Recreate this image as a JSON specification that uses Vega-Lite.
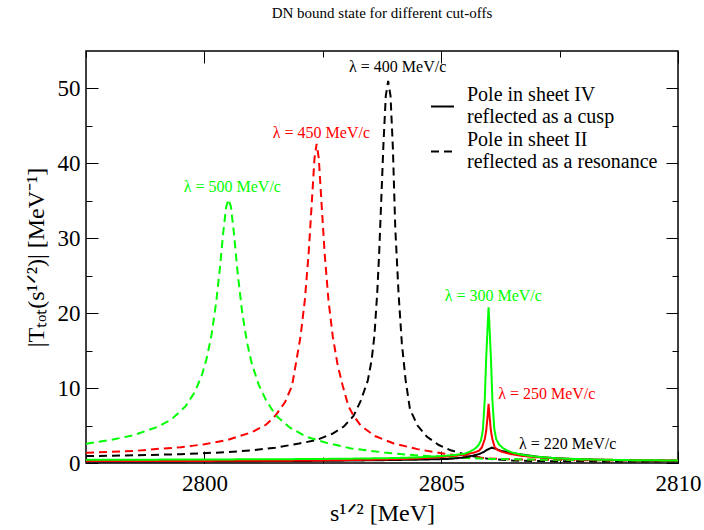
{
  "$schema": "https://vega.github.io/schema/vega-lite/v6.json",
  "width": 592,
  "height": 412,
  "autosize": {"type": "none"},
  "padding": {"left": 86, "top": 51, "right": 26, "bottom": 67},
  "background": "white",
  "title": {"text": "DN bound state for different cut-offs", "font": "Liberation Serif", "fontSize": 15, "fontWeight": "normal", "color": "black", "anchor": "middle", "baseline": "alphabetic", "frame": "group", "offset": 18},
  "config": {
    "view": {"stroke": "black", "strokeWidth": 1.5},
    "axis": {"labelFont": "Liberation Serif", "labelFontSize": 23, "labelColor": "black", "titleFont": "Liberation Serif", "titleFontSize": 24, "titleFontWeight": "normal", "titleColor": "black", "domain": false, "grid": false, "tickColor": "black", "tickWidth": 1, "labelFlush": false, "labelOverlap": false, "labelBound": false},
    "legend": {"labelFont": "Liberation Serif", "labelFontSize": 20, "labelColor": "black"}
  },
  "datasets": {
    "res": [
      {"x": 2797.5, "y": 0.92, "s": "400", "k": "resonance"},
      {"x": 2798.5, "y": 1.02, "s": "400", "k": "resonance"},
      {"x": 2799.5, "y": 1.18, "s": "400", "k": "resonance"},
      {"x": 2800.5, "y": 1.45, "s": "400", "k": "resonance"},
      {"x": 2801.0, "y": 1.7, "s": "400", "k": "resonance"},
      {"x": 2801.5, "y": 2.05, "s": "400", "k": "resonance"},
      {"x": 2802.0, "y": 2.6, "s": "400", "k": "resonance"},
      {"x": 2802.36, "y": 3.05, "s": "400", "k": "resonance"},
      {"x": 2802.7, "y": 3.9, "s": "400", "k": "resonance"},
      {"x": 2802.95, "y": 4.9, "s": "400", "k": "resonance"},
      {"x": 2803.15, "y": 6.3, "s": "400", "k": "resonance"},
      {"x": 2803.3, "y": 8.3, "s": "400", "k": "resonance"},
      {"x": 2803.45, "y": 11.0, "s": "400", "k": "resonance"},
      {"x": 2803.53, "y": 13.7, "s": "400", "k": "resonance"},
      {"x": 2803.59, "y": 17.0, "s": "400", "k": "resonance"},
      {"x": 2803.65, "y": 22.8, "s": "400", "k": "resonance"},
      {"x": 2803.69, "y": 28.0, "s": "400", "k": "resonance"},
      {"x": 2803.74, "y": 36.0, "s": "400", "k": "resonance"},
      {"x": 2803.78, "y": 42.5, "s": "400", "k": "resonance"},
      {"x": 2803.83, "y": 49.0, "s": "400", "k": "resonance"},
      {"x": 2803.88, "y": 51.0, "s": "400", "k": "resonance"},
      {"x": 2803.93, "y": 49.0, "s": "400", "k": "resonance"},
      {"x": 2803.98, "y": 42.0, "s": "400", "k": "resonance"},
      {"x": 2804.03, "y": 31.4, "s": "400", "k": "resonance"},
      {"x": 2804.1, "y": 22.6, "s": "400", "k": "resonance"},
      {"x": 2804.17, "y": 15.9, "s": "400", "k": "resonance"},
      {"x": 2804.25, "y": 11.0, "s": "400", "k": "resonance"},
      {"x": 2804.34, "y": 7.2, "s": "400", "k": "resonance"},
      {"x": 2804.5, "y": 5.0, "s": "400", "k": "resonance"},
      {"x": 2804.7, "y": 3.5, "s": "400", "k": "resonance"},
      {"x": 2804.95, "y": 2.4, "s": "400", "k": "resonance"},
      {"x": 2805.2, "y": 1.7, "s": "400", "k": "resonance"},
      {"x": 2805.5, "y": 1.15, "s": "400", "k": "resonance"},
      {"x": 2805.75, "y": 0.8, "s": "400", "k": "resonance"},
      {"x": 2806.0, "y": 0.55, "s": "400", "k": "resonance"},
      {"x": 2806.5, "y": 0.33, "s": "400", "k": "resonance"},
      {"x": 2807.0, "y": 0.26, "s": "400", "k": "resonance"},
      {"x": 2808.0, "y": 0.22, "s": "400", "k": "resonance"},
      {"x": 2809.0, "y": 0.2, "s": "400", "k": "resonance"},
      {"x": 2810.0, "y": 0.2, "s": "400", "k": "resonance"},
      {"x": 2797.5, "y": 1.36, "s": "450", "k": "resonance"},
      {"x": 2798.5, "y": 1.6, "s": "450", "k": "resonance"},
      {"x": 2799.06, "y": 1.9, "s": "450", "k": "resonance"},
      {"x": 2799.5, "y": 2.1, "s": "450", "k": "resonance"},
      {"x": 2800.0, "y": 2.5, "s": "450", "k": "resonance"},
      {"x": 2800.5, "y": 3.1, "s": "450", "k": "resonance"},
      {"x": 2801.0, "y": 4.1, "s": "450", "k": "resonance"},
      {"x": 2801.3, "y": 5.1, "s": "450", "k": "resonance"},
      {"x": 2801.5, "y": 6.33, "s": "450", "k": "resonance"},
      {"x": 2801.7, "y": 8.1, "s": "450", "k": "resonance"},
      {"x": 2801.85, "y": 10.3, "s": "450", "k": "resonance"},
      {"x": 2801.93, "y": 13.2, "s": "450", "k": "resonance"},
      {"x": 2802.03, "y": 16.9, "s": "450", "k": "resonance"},
      {"x": 2802.12, "y": 21.7, "s": "450", "k": "resonance"},
      {"x": 2802.2, "y": 27.9, "s": "450", "k": "resonance"},
      {"x": 2802.27, "y": 35.0, "s": "450", "k": "resonance"},
      {"x": 2802.325, "y": 40.7, "s": "450", "k": "resonance"},
      {"x": 2802.37, "y": 42.6, "s": "450", "k": "resonance"},
      {"x": 2802.415, "y": 40.7, "s": "450", "k": "resonance"},
      {"x": 2802.47, "y": 35.0, "s": "450", "k": "resonance"},
      {"x": 2802.54, "y": 27.9, "s": "450", "k": "resonance"},
      {"x": 2802.62, "y": 21.7, "s": "450", "k": "resonance"},
      {"x": 2802.71, "y": 16.9, "s": "450", "k": "resonance"},
      {"x": 2802.81, "y": 13.2, "s": "450", "k": "resonance"},
      {"x": 2802.92, "y": 10.3, "s": "450", "k": "resonance"},
      {"x": 2803.04, "y": 7.6, "s": "450", "k": "resonance"},
      {"x": 2803.15, "y": 6.3, "s": "450", "k": "resonance"},
      {"x": 2803.3, "y": 5.0, "s": "450", "k": "resonance"},
      {"x": 2803.6, "y": 3.6, "s": "450", "k": "resonance"},
      {"x": 2804.0, "y": 2.6, "s": "450", "k": "resonance"},
      {"x": 2804.5, "y": 1.85, "s": "450", "k": "resonance"},
      {"x": 2805.0, "y": 1.3, "s": "450", "k": "resonance"},
      {"x": 2805.5, "y": 0.9, "s": "450", "k": "resonance"},
      {"x": 2806.0, "y": 0.62, "s": "450", "k": "resonance"},
      {"x": 2806.5, "y": 0.48, "s": "450", "k": "resonance"},
      {"x": 2807.5, "y": 0.4, "s": "450", "k": "resonance"},
      {"x": 2808.5, "y": 0.35, "s": "450", "k": "resonance"},
      {"x": 2810.0, "y": 0.3, "s": "450", "k": "resonance"},
      {"x": 2797.5, "y": 2.56, "s": "500", "k": "resonance"},
      {"x": 2798.0, "y": 3.05, "s": "500", "k": "resonance"},
      {"x": 2798.5, "y": 3.7, "s": "500", "k": "resonance"},
      {"x": 2799.0, "y": 4.8, "s": "500", "k": "resonance"},
      {"x": 2799.3, "y": 5.8, "s": "500", "k": "resonance"},
      {"x": 2799.6, "y": 7.55, "s": "500", "k": "resonance"},
      {"x": 2799.8, "y": 9.5, "s": "500", "k": "resonance"},
      {"x": 2799.95, "y": 11.8, "s": "500", "k": "resonance"},
      {"x": 2800.05, "y": 14.0, "s": "500", "k": "resonance"},
      {"x": 2800.15, "y": 17.1, "s": "500", "k": "resonance"},
      {"x": 2800.25, "y": 21.5, "s": "500", "k": "resonance"},
      {"x": 2800.33, "y": 26.2, "s": "500", "k": "resonance"},
      {"x": 2800.4, "y": 30.9, "s": "500", "k": "resonance"},
      {"x": 2800.46, "y": 34.2, "s": "500", "k": "resonance"},
      {"x": 2800.51, "y": 35.2, "s": "500", "k": "resonance"},
      {"x": 2800.56, "y": 34.2, "s": "500", "k": "resonance"},
      {"x": 2800.62, "y": 30.9, "s": "500", "k": "resonance"},
      {"x": 2800.7, "y": 25.5, "s": "500", "k": "resonance"},
      {"x": 2800.8, "y": 20.0, "s": "500", "k": "resonance"},
      {"x": 2800.9, "y": 16.1, "s": "500", "k": "resonance"},
      {"x": 2801.0, "y": 13.3, "s": "500", "k": "resonance"},
      {"x": 2801.15, "y": 10.4, "s": "500", "k": "resonance"},
      {"x": 2801.3, "y": 8.4, "s": "500", "k": "resonance"},
      {"x": 2801.5, "y": 6.4, "s": "500", "k": "resonance"},
      {"x": 2801.8, "y": 4.75, "s": "500", "k": "resonance"},
      {"x": 2802.15, "y": 3.5, "s": "500", "k": "resonance"},
      {"x": 2802.6, "y": 2.65, "s": "500", "k": "resonance"},
      {"x": 2803.1, "y": 1.95, "s": "500", "k": "resonance"},
      {"x": 2803.8, "y": 1.4, "s": "500", "k": "resonance"},
      {"x": 2804.5, "y": 1.0, "s": "500", "k": "resonance"},
      {"x": 2805.2, "y": 0.75, "s": "500", "k": "resonance"},
      {"x": 2806.0, "y": 0.55, "s": "500", "k": "resonance"},
      {"x": 2807.0, "y": 0.45, "s": "500", "k": "resonance"},
      {"x": 2808.0, "y": 0.4, "s": "500", "k": "resonance"},
      {"x": 2809.0, "y": 0.35, "s": "500", "k": "resonance"},
      {"x": 2810.0, "y": 0.32, "s": "500", "k": "resonance"}
    ],
    "cusp": [
      {"x": 2797.5, "y": 0.2, "s": "220", "k": "cusp"},
      {"x": 2800.0, "y": 0.22, "s": "220", "k": "cusp"},
      {"x": 2802.0, "y": 0.27, "s": "220", "k": "cusp"},
      {"x": 2803.0, "y": 0.32, "s": "220", "k": "cusp"},
      {"x": 2804.0, "y": 0.4, "s": "220", "k": "cusp"},
      {"x": 2804.5, "y": 0.45, "s": "220", "k": "cusp"},
      {"x": 2805.0, "y": 0.52, "s": "220", "k": "cusp"},
      {"x": 2805.2, "y": 0.56, "s": "220", "k": "cusp"},
      {"x": 2805.5, "y": 0.75, "s": "220", "k": "cusp"},
      {"x": 2805.68, "y": 1.0, "s": "220", "k": "cusp"},
      {"x": 2805.8, "y": 1.2, "s": "220", "k": "cusp"},
      {"x": 2805.89, "y": 1.44, "s": "220", "k": "cusp"},
      {"x": 2805.98, "y": 1.8, "s": "220", "k": "cusp"},
      {"x": 2806.07, "y": 2.05, "s": "220", "k": "cusp"},
      {"x": 2806.15, "y": 1.9, "s": "220", "k": "cusp"},
      {"x": 2806.24, "y": 1.67, "s": "220", "k": "cusp"},
      {"x": 2806.4, "y": 1.42, "s": "220", "k": "cusp"},
      {"x": 2806.6, "y": 1.22, "s": "220", "k": "cusp"},
      {"x": 2806.85, "y": 1.0, "s": "220", "k": "cusp"},
      {"x": 2807.09, "y": 0.78, "s": "220", "k": "cusp"},
      {"x": 2807.4, "y": 0.65, "s": "220", "k": "cusp"},
      {"x": 2807.65, "y": 0.56, "s": "220", "k": "cusp"},
      {"x": 2808.2, "y": 0.45, "s": "220", "k": "cusp"},
      {"x": 2808.7, "y": 0.38, "s": "220", "k": "cusp"},
      {"x": 2809.4, "y": 0.3, "s": "220", "k": "cusp"},
      {"x": 2810.0, "y": 0.28, "s": "220", "k": "cusp"},
      {"x": 2797.5, "y": 0.25, "s": "250", "k": "cusp"},
      {"x": 2800.0, "y": 0.28, "s": "250", "k": "cusp"},
      {"x": 2802.0, "y": 0.32, "s": "250", "k": "cusp"},
      {"x": 2803.0, "y": 0.38, "s": "250", "k": "cusp"},
      {"x": 2804.0, "y": 0.5, "s": "250", "k": "cusp"},
      {"x": 2804.5, "y": 0.6, "s": "250", "k": "cusp"},
      {"x": 2805.0, "y": 0.8, "s": "250", "k": "cusp"},
      {"x": 2805.3, "y": 0.97, "s": "250", "k": "cusp"},
      {"x": 2805.5, "y": 1.12, "s": "250", "k": "cusp"},
      {"x": 2805.7, "y": 1.4, "s": "250", "k": "cusp"},
      {"x": 2805.8, "y": 1.65, "s": "250", "k": "cusp"},
      {"x": 2805.86, "y": 2.1, "s": "250", "k": "cusp"},
      {"x": 2805.92, "y": 3.2, "s": "250", "k": "cusp"},
      {"x": 2805.95, "y": 4.3, "s": "250", "k": "cusp"},
      {"x": 2805.98, "y": 6.3, "s": "250", "k": "cusp"},
      {"x": 2806.0, "y": 7.9, "s": "250", "k": "cusp"},
      {"x": 2806.02, "y": 6.3, "s": "250", "k": "cusp"},
      {"x": 2806.05, "y": 4.3, "s": "250", "k": "cusp"},
      {"x": 2806.08, "y": 3.2, "s": "250", "k": "cusp"},
      {"x": 2806.13, "y": 2.1, "s": "250", "k": "cusp"},
      {"x": 2806.2, "y": 1.7, "s": "250", "k": "cusp"},
      {"x": 2806.3, "y": 1.45, "s": "250", "k": "cusp"},
      {"x": 2806.46, "y": 1.2, "s": "250", "k": "cusp"},
      {"x": 2806.7, "y": 0.95, "s": "250", "k": "cusp"},
      {"x": 2807.0, "y": 0.78, "s": "250", "k": "cusp"},
      {"x": 2807.5, "y": 0.58, "s": "250", "k": "cusp"},
      {"x": 2808.0, "y": 0.48, "s": "250", "k": "cusp"},
      {"x": 2809.0, "y": 0.38, "s": "250", "k": "cusp"},
      {"x": 2810.0, "y": 0.32, "s": "250", "k": "cusp"},
      {"x": 2797.5, "y": 0.43, "s": "300", "k": "cusp"},
      {"x": 2799.0, "y": 0.45, "s": "300", "k": "cusp"},
      {"x": 2800.5, "y": 0.48, "s": "300", "k": "cusp"},
      {"x": 2802.0, "y": 0.52, "s": "300", "k": "cusp"},
      {"x": 2803.0, "y": 0.57, "s": "300", "k": "cusp"},
      {"x": 2804.0, "y": 0.66, "s": "300", "k": "cusp"},
      {"x": 2804.5, "y": 0.75, "s": "300", "k": "cusp"},
      {"x": 2805.0, "y": 0.92, "s": "300", "k": "cusp"},
      {"x": 2805.3, "y": 1.08, "s": "300", "k": "cusp"},
      {"x": 2805.5, "y": 1.25, "s": "300", "k": "cusp"},
      {"x": 2805.6, "y": 1.5, "s": "300", "k": "cusp"},
      {"x": 2805.7, "y": 1.85, "s": "300", "k": "cusp"},
      {"x": 2805.78, "y": 2.3, "s": "300", "k": "cusp"},
      {"x": 2805.84, "y": 3.0, "s": "300", "k": "cusp"},
      {"x": 2805.88, "y": 4.4, "s": "300", "k": "cusp"},
      {"x": 2805.92, "y": 8.5, "s": "300", "k": "cusp"},
      {"x": 2805.95, "y": 14.0, "s": "300", "k": "cusp"},
      {"x": 2805.975, "y": 17.5, "s": "300", "k": "cusp"},
      {"x": 2806.0, "y": 20.8, "s": "300", "k": "cusp"},
      {"x": 2806.025, "y": 17.5, "s": "300", "k": "cusp"},
      {"x": 2806.05, "y": 14.0, "s": "300", "k": "cusp"},
      {"x": 2806.08, "y": 8.5, "s": "300", "k": "cusp"},
      {"x": 2806.12, "y": 4.6, "s": "300", "k": "cusp"},
      {"x": 2806.16, "y": 3.2, "s": "300", "k": "cusp"},
      {"x": 2806.22, "y": 2.5, "s": "300", "k": "cusp"},
      {"x": 2806.3, "y": 2.0, "s": "300", "k": "cusp"},
      {"x": 2806.4, "y": 1.65, "s": "300", "k": "cusp"},
      {"x": 2806.5, "y": 1.4, "s": "300", "k": "cusp"},
      {"x": 2806.7, "y": 1.1, "s": "300", "k": "cusp"},
      {"x": 2807.0, "y": 0.85, "s": "300", "k": "cusp"},
      {"x": 2807.5, "y": 0.6, "s": "300", "k": "cusp"},
      {"x": 2808.3, "y": 0.45, "s": "300", "k": "cusp"},
      {"x": 2809.0, "y": 0.38, "s": "300", "k": "cusp"},
      {"x": 2810.0, "y": 0.33, "s": "300", "k": "cusp"}
    ],
    "labres": [
      {"x": 2804.08, "y": 52.9, "t": "λ = 400 MeV/c", "s": "400"},
      {"x": 2802.47, "y": 44.1, "t": "λ = 450 MeV/c", "s": "450"},
      {"x": 2800.59, "y": 36.9, "t": "λ = 500 MeV/c", "s": "500"}
    ],
    "labcusp": [
      {"x": 2806.1, "y": 22.3, "t": "λ = 300 MeV/c", "s": "300"},
      {"x": 2807.23, "y": 9.2, "t": "λ = 250 MeV/c", "s": "250"},
      {"x": 2807.67, "y": 2.56, "t": "λ = 220 MeV/c", "s": "220"}
    ]
  },
  "resolve": {"axis": {"x": "independent", "y": "independent"}},
  "layer": [
    {
      "data": {"name": "res"},
      "mark": {"type": "line", "strokeWidth": 2, "clip": true},
      "encoding": {
        "x": {"field": "x", "type": "quantitative", "scale": {"domain": [2797.5, 2810], "nice": false, "zero": false},
          "axis": {"orient": "bottom", "values": [2800, 2805, 2810], "format": "d", "title": "s¹ᐟ² [MeV]", "tickSize": -12, "labelPadding": 21, "titlePadding": 6}},
        "y": {"field": "y", "type": "quantitative", "scale": {"domain": [0, 55], "nice": false, "zero": true},
          "axis": {"orient": "left", "values": [0, 10, 20, 30, 40, 50], "format": "d", "title": "|Tₜₒₜ(s¹ᐟ²)| [MeV⁻¹]", "tickSize": -12, "labelPadding": 18, "titlePadding": 9}},
        "color": {"field": "s", "type": "nominal", "scale": {"domain": ["400", "450", "500", "220", "250", "300"], "range": ["#000000", "#ff0000", "#00ff00", "#000000", "#ff0000", "#00ff00"]}, "legend": null},
        "strokeDash": {"field": "k", "type": "nominal", "scale": {"domain": ["cusp", "resonance"], "range": [[1, 0], [8, 5]]},
          "legend": {"orient": "none", "legendX": 344, "legendY": 31, "title": null, "padding": 0, "symbolType": "M-1,1.04H1", "symbolStrokeColor": "black", "symbolFillColor": "transparent", "symbolStrokeWidth": 2, "symbolSize": 529, "labelFont": "Liberation Serif", "labelFontSize": 20, "labelLineHeight": 21, "labelColor": "black", "labelOffset": 12, "labelLimit": 400, "rowPadding": 0,
            "labelExpr": "datum.value == 'cusp' ? ['Pole in sheet IV', 'reflected as a cusp'] : ['Pole in sheet II', 'reflected as a resonance']"}},
        "order": {"field": "x", "type": "quantitative"}
      }
    },
    {
      "data": {"name": "cusp"},
      "mark": {"type": "line", "strokeWidth": 2, "clip": true},
      "encoding": {
        "x": {"field": "x", "type": "quantitative",
          "axis": {"orient": "bottom", "values": [2797.5, 2802.5, 2807.5], "labels": false, "title": null, "tickSize": -6}},
        "y": {"field": "y", "type": "quantitative",
          "axis": {"orient": "left", "values": [5, 15, 25, 35, 45], "labels": false, "title": null, "tickSize": -6}},
        "color": {"field": "s", "type": "nominal", "legend": null},
        "strokeDash": {"field": "k", "type": "nominal"},
        "order": {"field": "x", "type": "quantitative"}
      }
    },
    {
      "data": {"name": "labres"},
      "mark": {"type": "text", "font": "Liberation Serif", "fontSize": 16, "align": "center", "baseline": "middle"},
      "encoding": {
        "x": {"field": "x", "type": "quantitative",
          "axis": {"orient": "top", "values": [2800, 2805, 2810], "labels": false, "title": null, "tickSize": -12}},
        "y": {"field": "y", "type": "quantitative",
          "axis": {"orient": "right", "values": [0, 10, 20, 30, 40, 50], "labels": false, "title": null, "tickSize": -12}},
        "text": {"field": "t"},
        "color": {"field": "s", "type": "nominal", "legend": null}
      }
    },
    {
      "data": {"name": "labcusp"},
      "mark": {"type": "text", "font": "Liberation Serif", "fontSize": 16, "align": "center", "baseline": "middle"},
      "encoding": {
        "x": {"field": "x", "type": "quantitative",
          "axis": {"orient": "top", "values": [2797.5, 2802.5, 2807.5], "labels": false, "title": null, "tickSize": -6}},
        "y": {"field": "y", "type": "quantitative",
          "axis": {"orient": "right", "values": [5, 15, 25, 35, 45], "labels": false, "title": null, "tickSize": -6}},
        "text": {"field": "t"},
        "color": {"field": "s", "type": "nominal", "legend": null}
      }
    }
  ]
}
